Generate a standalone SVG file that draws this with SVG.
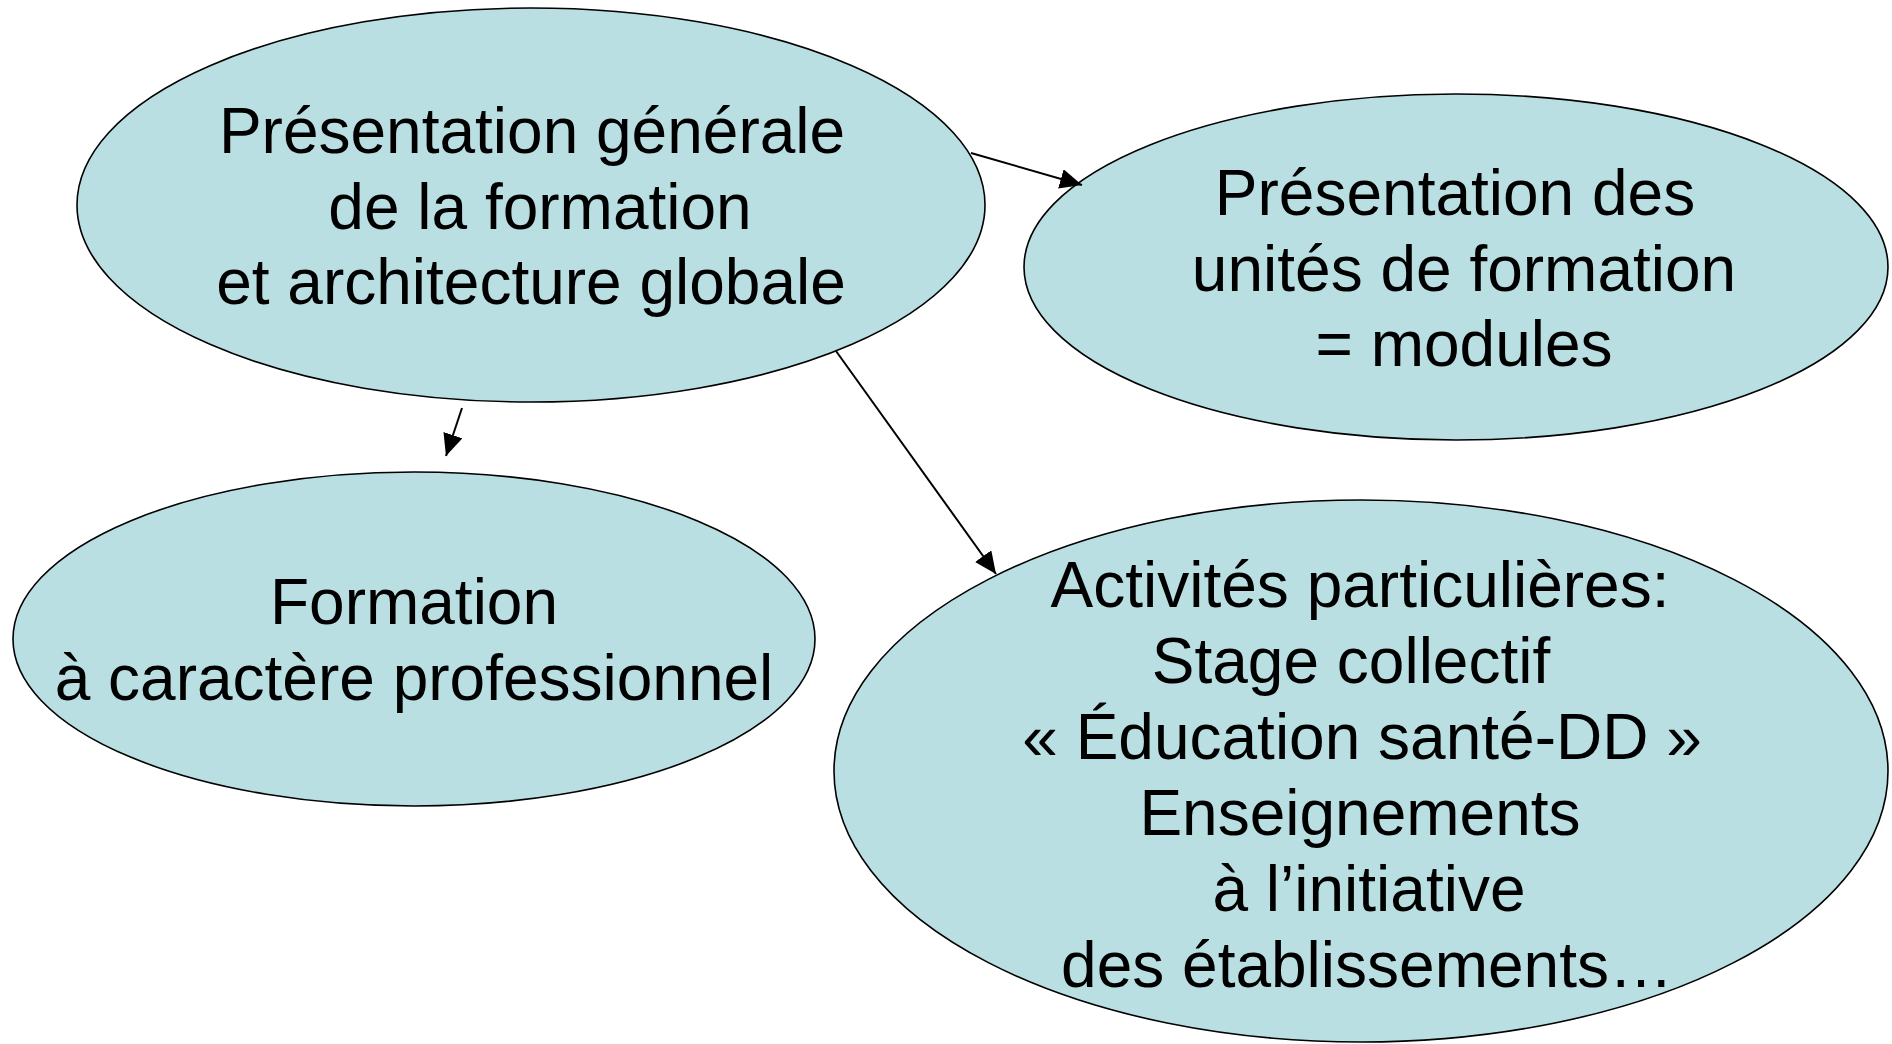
<svg xmlns="http://www.w3.org/2000/svg" width="1892" height="1044" viewBox="0 0 1892 1044">
<style>
.node ellipse{fill:#B9DFE2;stroke:#000;stroke-width:1.6}
.node text{font-family:"Liberation Sans",Arial,sans-serif;font-size:64px;fill:#000;text-anchor:middle}
.conn line{stroke:#000;stroke-width:2;fill:none}
</style>
<defs>
<marker id="arrow" markerUnits="userSpaceOnUse" markerWidth="24" markerHeight="22" refX="22" refY="10" orient="auto">
<path d="M0,0 L22,10 L0,20 Z" fill="#000"/>
</marker>
</defs>
<rect width="1892" height="1044" fill="#fff"/>
<g id="n1" class="node">
<ellipse cx="531" cy="205" rx="454" ry="197"/>
<text x="532" y="153">Présentation générale</text>
<text x="540" y="229">de la formation</text>
<text x="531" y="304">et architecture globale</text>
</g>
<g id="n2" class="node">
<ellipse cx="1456" cy="267" rx="432" ry="173"/>
<text x="1455" y="215">Présentation des</text>
<text x="1464" y="291">unités de formation</text>
<text x="1464" y="366">= modules</text>
</g>
<g id="n3" class="node">
<ellipse cx="414" cy="639" rx="401" ry="167"/>
<text x="414" y="624">Formation</text>
<text x="414" y="700">à caractère professionnel</text>
</g>
<g id="n4" class="node">
<ellipse cx="1361" cy="771" rx="527" ry="271"/>
<text x="1360" y="607">Activités particulières:</text>
<text x="1351" y="683">Stage collectif</text>
<text x="1362" y="759">« Éducation santé-DD »</text>
<text x="1360" y="835">Enseignements</text>
<text x="1369" y="911">à l’initiative</text>
<text x="1367" y="987">des établissements…</text>
</g>
<g id="connectors" class="conn">
<line x1="971" y1="153" x2="1082" y2="185" marker-end="url(#arrow)"/>
<line x1="462" y1="408" x2="446" y2="456" marker-end="url(#arrow)"/>
<line x1="836" y1="351" x2="996" y2="574" marker-end="url(#arrow)"/>
</g>
</svg>
